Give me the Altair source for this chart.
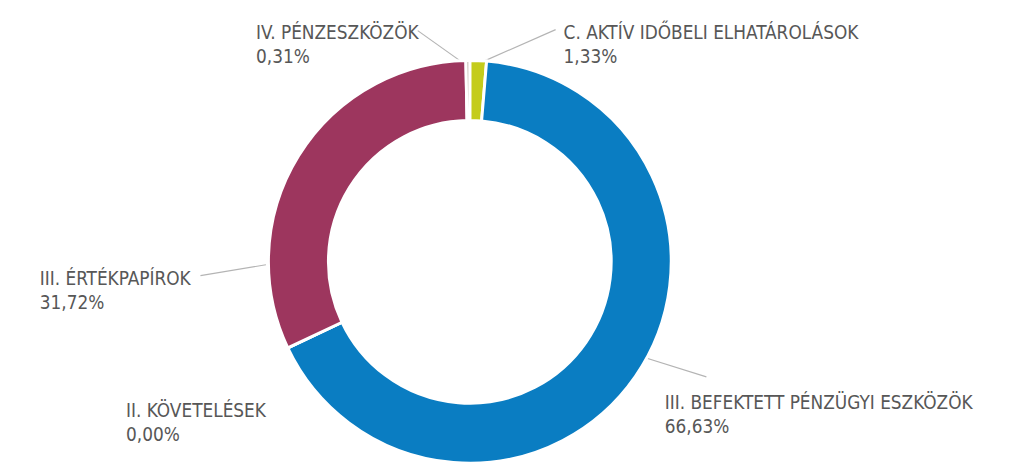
import altair as alt
import pandas as pd

# ---- data ----
categories = [
    "C. AKTÍV IDŐBELI ELHATÁROLÁSOK",
    "III. BEFEKTETT PÉNZÜGYI ESZKÖZÖK",
    "II. KÖVETELÉSEK",
    "III. ÉRTÉKPAPÍROK",
    "IV. PÉNZESZKÖZÖK",
]
values = [1.33, 66.63, 0.00, 31.72, 0.31]
colors = ["#c4cc1b", "#0a7dc2", "#8a8a8a", "#9d365e", "#bdb3a9"]

# ---- layout (view pixel coordinates; page = view + 8) ----
OFF = 8
center = (473.5 - OFF, 262 - OFF)
outer_r, inner_r = 203, 142.5
label_pos = {  # left x, first baseline (page coords)
    categories[0]: (568, 37),
    categories[1]: (670, 410),
    categories[2]: (127, 418),
    categories[3]: (40, 285),
    categories[4]: (258, 37),
}
connectors = {  # (x1, y1, x2, y2) page coords
    categories[0]: (560, 28, 485, 61),
    categories[1]: (712, 378, 648, 358),
    categories[3]: (202, 276, 268, 265),
    categories[4]: (421, 29, 466, 61),
}
LINE_H = 25

df = pd.DataFrame({"cat": categories, "value": values, "order": list(range(len(categories)))})

arc = alt.Chart(df).mark_arc(
    radius=outer_r, radius2=inner_r, stroke="white", strokeWidth=3
).encode(
    theta=alt.Theta("value:Q", stack=True),
    order=alt.Order("order:Q"),
    color=alt.Color("cat:N", scale=alt.Scale(domain=categories, range=colors), legend=None),
    x=alt.value(center[0]),
    y=alt.value(center[1]),
)

rows = []
for c, v in zip(categories, values):
    lx, ly = label_pos[c]
    rows.append({"t": c, "x": lx - OFF, "y": ly - OFF})
    rows.append({"t": f"{v:.2f}%".replace(".", ","), "x": lx - OFF, "y": ly - OFF + LINE_H})
tdf = pd.DataFrame(rows)

text = alt.Chart(tdf).mark_text(
    align="left", baseline="alphabetic", font="DejaVu Sans Condensed", fontSize=19, color="#575757"
).encode(
    x=alt.X("x:Q", scale=None, axis=None),
    y=alt.Y("y:Q", scale=None, axis=None),
    text="t:N",
)

lrows = []
for c, (x1, y1, x2, y2) in connectors.items():
    lrows.append({"x": x1 - OFF, "y": y1 - OFF, "x2": x2 - OFF, "y2": y2 - OFF})
ldf = pd.DataFrame(lrows)

lines = alt.Chart(ldf).mark_rule(color="#b4b4b4", strokeWidth=1.2).encode(
    x=alt.X("x:Q", scale=None, axis=None),
    y=alt.Y("y:Q", scale=None, axis=None),
    x2="x2:Q",
    y2="y2:Q",
)

chart = alt.layer(lines, arc, text).properties(
    width=1006, height=454, autosize=alt.AutoSizeParams(type="none"), padding=0
).configure_view(stroke=None)

chart.save("out.html", embed_options={"renderer": "svg", "actions": False})
